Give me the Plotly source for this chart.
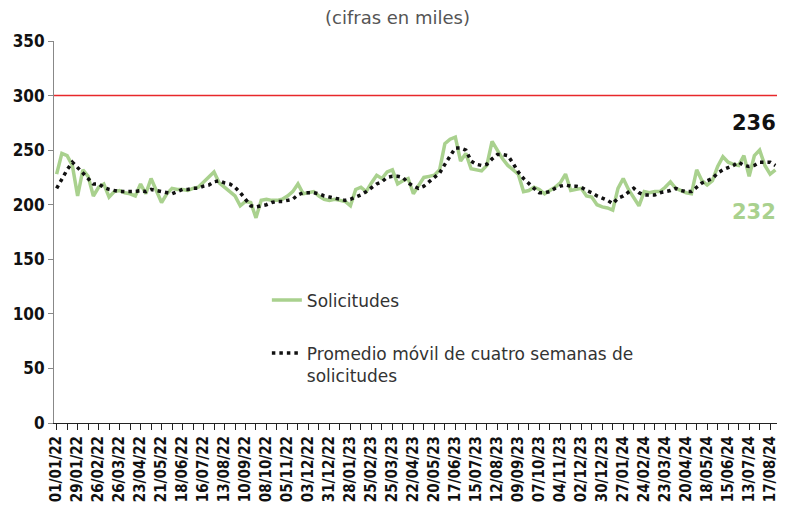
import plotly.graph_objects as go

solicitudes = [228, 247, 245, 236, 208, 232, 226, 208, 216, 219,
               207, 212, 213, 211, 210, 208, 219, 210, 224, 213,
               202, 210, 215, 214, 214, 213, 215, 216, 221, 225,
               230, 220, 216, 212, 208, 199, 203, 202, 188, 204,
               205, 204, 204, 205, 208, 212, 219, 210, 211, 212,
               208, 205, 204, 205, 204, 203, 199, 214, 216, 212,
               220, 227, 224, 230, 232, 219, 222, 224, 210, 218,
               225, 226, 227, 232, 256, 260, 262, 240, 247, 233,
               232, 231, 236, 258, 250, 242, 236, 232, 228, 212,
               213, 216, 214, 210, 213, 216, 220, 228, 213, 214,
               215, 208, 207, 200, 198, 197, 195, 215, 224, 214,
               207, 199, 212, 211, 212, 212, 216, 221, 215, 213,
               211, 210, 232, 222, 218, 222, 235, 244, 239, 237,
               236, 245, 226, 245, 250, 236, 228, 232]

promedio = [215, 224, 232, 239, 234, 229, 224, 219, 219, 216,
            214, 213, 212, 212, 212, 212, 213, 212, 214, 213,
            212, 211, 210, 212, 214, 214, 215, 215, 217, 218,
            221, 222, 220, 219, 216, 211, 205, 199, 198, 199,
            200, 202, 203, 203, 204, 205, 209, 211, 211, 211,
            210, 208, 207, 206, 205, 204, 205, 207, 209, 212,
            216, 219, 221, 225, 226, 226, 225, 220, 217, 215,
            217, 221, 224, 229, 237, 245, 252, 252, 250, 240,
            237, 236, 237, 242, 246, 246, 245, 238, 230, 224,
            219, 215, 211, 211, 212, 215, 217, 218, 217, 217,
            216, 213, 211, 208, 206, 204, 201, 206, 208, 212,
            215, 211, 209, 209, 209, 211, 212, 213, 215, 213,
            212, 212, 216, 220, 222, 224, 229, 232, 234, 236,
            239, 236, 235, 236, 239, 239, 239, 236]

tick_labels = ["01/01/22", "29/01/22", "26/02/22", "26/03/22", "23/04/22",
               "21/05/22", "18/06/22", "16/07/22", "13/08/22", "10/09/22",
               "08/10/22", "05/11/22", "03/12/22", "31/12/22", "28/01/23",
               "25/02/23", "25/03/23", "22/04/23", "20/05/23", "17/06/23",
               "15/07/23", "12/08/23", "09/09/23", "07/10/23", "04/11/23",
               "02/12/23", "30/12/23", "27/01/24", "24/02/24", "23/03/24",
               "20/04/24", "18/05/24", "15/06/24", "13/07/24", "17/08/24"]

limite = 300
x = list(range(len(solicitudes)))
tick_pos = [4 * k for k in range(len(tick_labels))]

GREEN = "#a9d18e"
AXFONT = "DejaVu Sans Condensed, Liberation Sans Narrow, sans-serif"

fig = go.Figure()
fig.add_trace(go.Scatter(
    x=x, y=solicitudes, mode="lines", name="Solicitudes",
    line=dict(color=GREEN, width=3.5), legendgroup="a"))
fig.add_trace(go.Scatter(
    x=x, y=promedio, mode="lines",
    name="Promedio móvil de cuatro semanas de<br>solicitudes",
    line=dict(color="#111111", width=3.5, dash="3.5px,4px"), legendgroup="b"))
fig.add_trace(go.Scatter(
    x=[-0.5, len(x) - 0.5], y=[limite, limite], mode="lines",
    line=dict(color="#e8282b", width=1.5), showlegend=False, hoverinfo="skip"))

fig.add_annotation(x=x[-1], y=promedio[-1], text="<b>236</b>", showarrow=False,
                   xanchor="right", yanchor="middle", xshift=3, yshift=42,
                   font=dict(family="DejaVu Sans", size=21, color="#111111"))
fig.add_annotation(x=x[-1], y=solicitudes[-1], text="<b>232</b>", showarrow=False,
                   xanchor="right", yanchor="middle", xshift=3, yshift=-42,
                   font=dict(family="DejaVu Sans", size=21, color=GREEN))
fig.add_annotation(xref="paper", yref="paper", x=0.475, y=1, yanchor="middle", yshift=24,
                   text="(cifras en miles)", showarrow=False,
                   font=dict(family="DejaVu Sans", size=18, color="#555555"))

fig.update_layout(
    width=785, height=508,
    margin=dict(l=46, r=15, t=33, b=93),
    plot_bgcolor="white", paper_bgcolor="white",
    showlegend=True,
    legend=dict(x=0.294, y=0.368, xanchor="left", yanchor="top",
                bgcolor="rgba(0,0,0,0)", tracegroupgap=28, valign="top",
                font=dict(family="DejaVu Sans", size=17, color="#333333")),
    xaxis=dict(range=[-0.5, len(x) - 0.5], tickmode="array", tickvals=tick_pos,
               ticktext=tick_labels, tickangle=-90, showgrid=False, zeroline=False,
               automargin=False,
               showline=True, linecolor="#222222", linewidth=1,
               ticks="outside", ticklen=6, tickcolor="#222222",
               minor=dict(dtick=2, tick0=0, ticks="outside", ticklen=6, tickcolor="#222222"),
               tickfont=dict(family=AXFONT, size=15, color="#111111", weight="bold")),
    yaxis=dict(range=[0, 350], dtick=50, showgrid=False, zeroline=False,
               automargin=False,
               showline=True, linecolor="#888888", linewidth=1,
               ticks="outside", ticklen=5, tickcolor="#888888",
               tickfont=dict(family=AXFONT, size=17, color="#111111", weight="bold")),
)

fig.write_html("out.html")
